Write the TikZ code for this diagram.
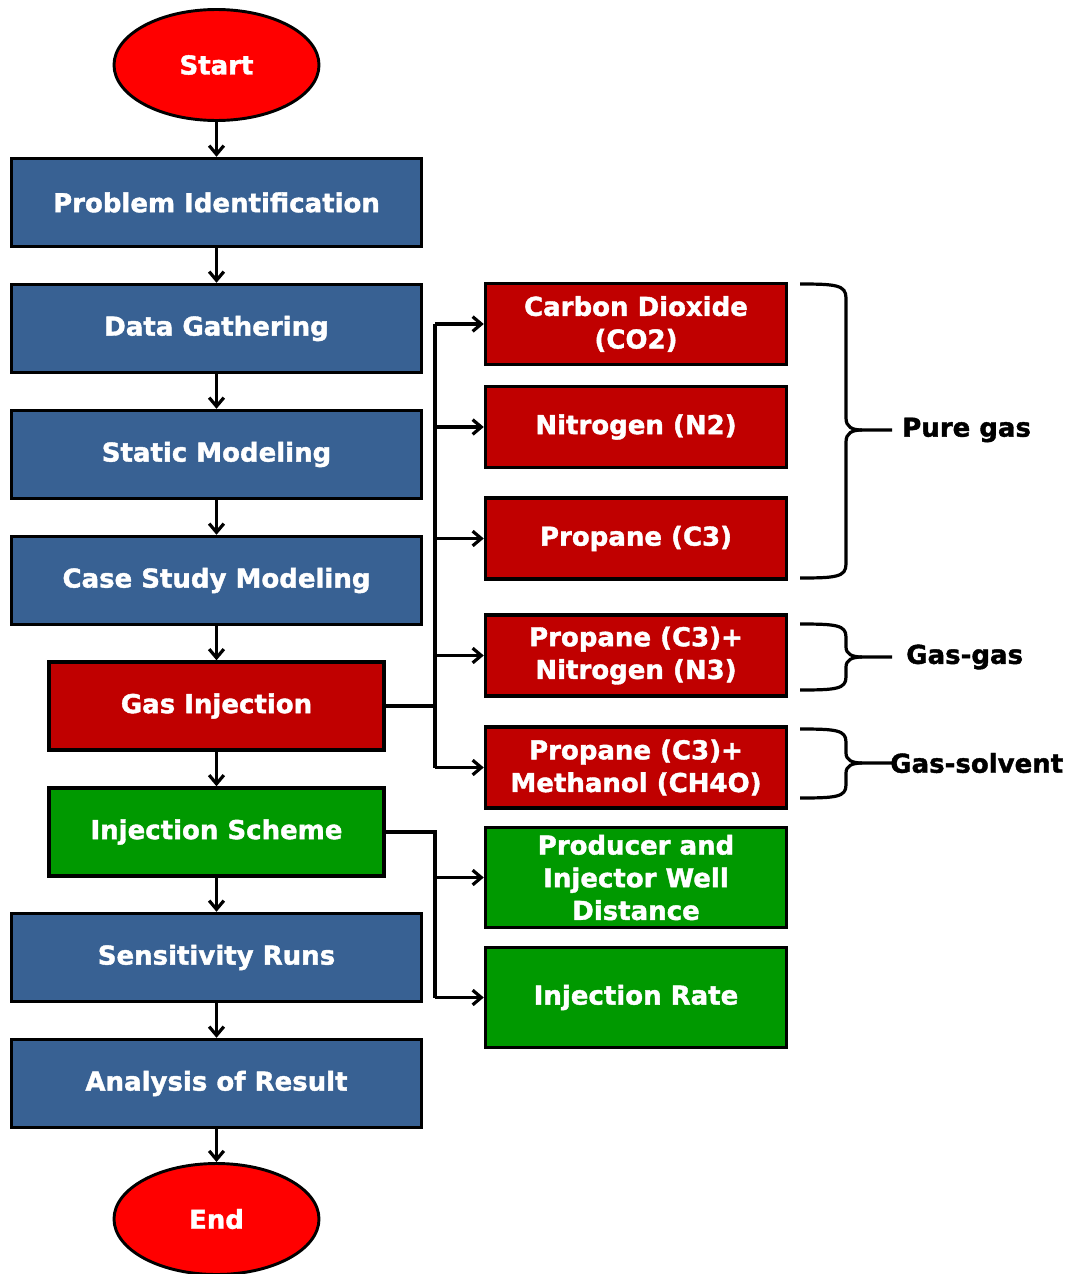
\documentclass[tikz,border=0pt]{standalone}
\usepackage{fontspec}
\setmainfont{DejaVu Sans}
\newfontfamily\heavyfont{DejaVu Sans Bold}[FakeBold=1.5]
\usetikzlibrary{shapes.geometric,arrows.meta}

\definecolor{stepblue}{RGB}{56,97,147}
\definecolor{gasred}{RGB}{192,0,0}
\definecolor{schemegreen}{RGB}{0,153,0}
\definecolor{termred}{RGB}{255,0,0}

\tikzset{
  boxbase/.style={draw=black, line width=2.6pt, text=white, align=center, inner sep=0pt,
    font=\fontsize{19.5}{24.5}\selectfont\heavyfont},
  mainbox/.style={boxbase, fill=stepblue, minimum width=307.5pt, minimum height=66pt},
  midbox/.style={boxbase, minimum width=251.25pt, minimum height=66pt},
  sidebox/.style={boxbase, minimum width=225.75pt, minimum height=60.75pt},
  termnode/.style={boxbase, ellipse, fill=termred, line width=2.2pt, minimum width=153.75pt, minimum height=83.25pt},
  flow/.style={line width=2.4pt, -{Straight Barb[length=6.5pt,width=11pt]}},
  link/.style={line width=2.4pt},
  bracket/.style={line width=2.4pt},
  bracetext/.style={anchor=west, inner sep=0pt, font=\fontsize{19.5}{24.5}\selectfont\heavyfont}
}

\begin{document}
\begin{tikzpicture}[x=0.75pt,y=0.75pt,yscale=-1]
\useasboundingbox (0,0) rectangle (1074,1274);

% Main column
\node[termnode] (start) at (216.5,65) {Start};
\node[mainbox] (problem) at (216.5,202.5) {Problem Identification};
\node[mainbox] (data) at (216.5,328.5) {Data Gathering};
\node[mainbox] (static) at (216.5,454.5) {Static Modeling};
\node[mainbox] (case) at (216.5,580.5) {Case Study Modeling};
\node[midbox, fill=gasred] (gas) at (216.5,706) {Gas Injection};
\node[midbox, fill=schemegreen] (scheme) at (216.5,832) {Injection Scheme};
\node[mainbox] (sens) at (216.5,957.5) {Sensitivity Runs};
\node[mainbox] (result) at (216.5,1083.5) {Analysis of Result};
\node[termnode] (stop) at (216.5,1219) {End};

% Gas options
\node[sidebox, fill=gasred] (co2) at (636,324) {Carbon Dioxide\\(CO2)};
\node[sidebox, fill=gasred] (nit) at (636,427) {Nitrogen (N2)};
\node[sidebox, fill=gasred] (prop) at (636,538.5) {Propane (C3)};
\node[sidebox, fill=gasred] (propnit) at (636,655.5) {Propane (C3)+\\Nitrogen (N3)};
\node[sidebox, fill=gasred] (propmeth) at (636,767.5) {Propane (C3)+\\Methanol (CH4O)};

% Scheme options
\node[sidebox, fill=schemegreen, minimum height=75pt] (dist) at (636,877.5) {Producer and\\Injector Well\\Distance};
\node[sidebox, fill=schemegreen, minimum height=75pt] (rate) at (636,997.5) {Injection Rate};

% Straight Lines
\foreach \a/\b in {start/problem,problem/data,data/static,static/case,case/gas,gas/scheme,scheme/sens,sens/result,result/stop}
  \draw[flow] (\a.south) -- (\b.north);

% Gas branch
\coordinate (gasjoint) at (435,706);
\draw[link] (gas.east) -- (gasjoint);
\draw[link] (gasjoint |- co2.west) -- (gasjoint |- propmeth.west);
\foreach \n in {co2,nit,prop,propnit,propmeth}
  \draw[flow] (gasjoint |- \n.west) -- (\n.west);

% Scheme branch
\coordinate (schemejoint) at (435,832);
\draw[link] (scheme.east) -- (schemejoint) -- (schemejoint |- rate.west);
\foreach \n in {dist,rate}
  \draw[flow] (schemejoint |- \n.west) -- (\n.west);

% Braces
\draw[bracket] (800,284) .. controls (836,284) and (846,285) .. (846,298) -- (846,418) .. controls (846,427) and (852,430) .. (862,430) -- (892,430);
\draw[bracket] (800,578) .. controls (836,578) and (846,577) .. (846,564) -- (846,442) .. controls (846,433) and (852,430) .. (862,430);
\draw[bracket] (800,624) .. controls (836,624) and (846,625) .. (846,637) -- (846,647) .. controls (846,654) and (852,657) .. (862,657) -- (892,657);
\draw[bracket] (800,690) .. controls (836,690) and (846,689) .. (846,677) -- (846,667) .. controls (846,660) and (852,657) .. (862,657);
\draw[bracket] (800,729) .. controls (836,729) and (846,730) .. (846,742) -- (846,753) .. controls (846,760) and (852,763) .. (862,763) -- (892,763);
\draw[bracket] (800,798) .. controls (836,798) and (846,797) .. (846,785) -- (846,773) .. controls (846,766) and (852,763) .. (862,763);

% Text Node
\node[bracetext] (puregas) at (902,430) {Pure gas};
\node[bracetext] (gasgas) at (906,657) {Gas-gas};
\node[bracetext] (gassolv) at (890,763) {Gas-solvent};

\end{tikzpicture}
\end{document}
